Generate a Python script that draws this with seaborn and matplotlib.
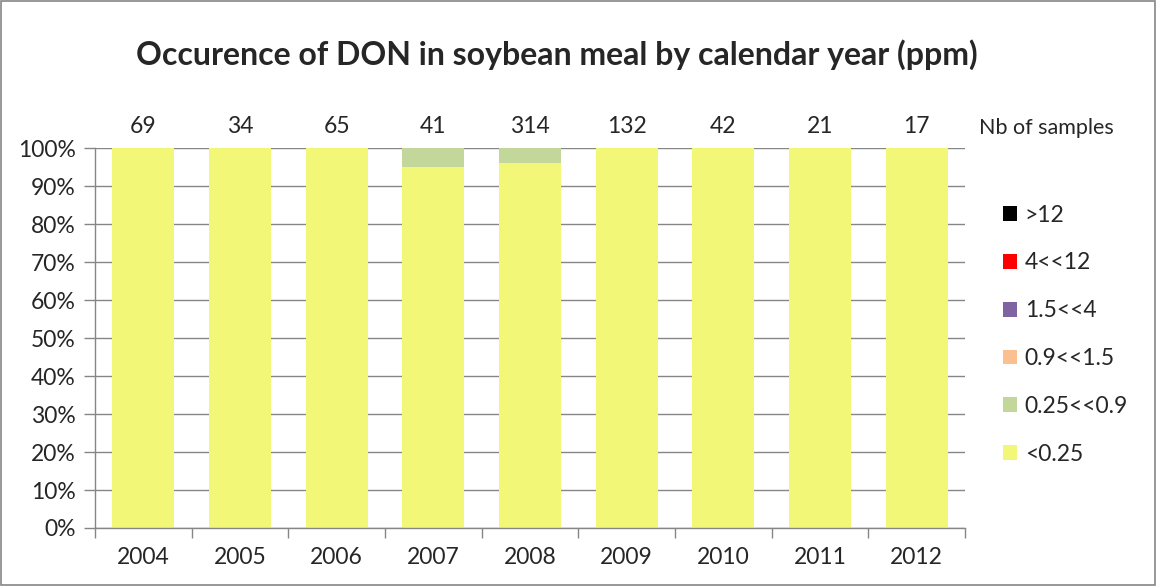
import pandas as pd
import numpy as np
import seaborn as sns
import matplotlib.pyplot as plt
from matplotlib.patches import Patch, Rectangle

years = ["2004", "2005", "2006", "2007", "2008", "2009", "2010", "2011", "2012"]
n_samples = [69, 34, 65, 41, 314, 132, 42, 21, 17]

# share of samples per class (%), bottom to top
classes = ["<0.25", "0.25<<0.9", "0.9<<1.5", "1.5<<4", "4<<12", ">12"]
lt_025 = [100, 100, 100, 95, 96, 100, 100, 100, 100]
c025_09 = [0, 0, 0, 5, 4, 0, 0, 0, 0]
c09_15 = [0, 0, 0, 0, 0, 0, 0, 0, 0]
c15_4 = [0, 0, 0, 0, 0, 0, 0, 0, 0]
c4_12 = [0, 0, 0, 0, 0, 0, 0, 0, 0]
gt_12 = [0, 0, 0, 0, 0, 0, 0, 0, 0]

colors = ["#F2F778", "#C4D79B", "#FAC090", "#8064A2", "#FF0000", "#000000"]

df = pd.DataFrame({"year": years, "<0.25": lt_025, "0.25<<0.9": c025_09,
                   "0.9<<1.5": c09_15, "1.5<<4": c15_4, "4<<12": c4_12, ">12": gt_12})

sns.set_theme(style="white")
plt.rcParams['font.family'] = ['Lato', 'DejaVu Sans']
grid_col = "#868686"

fig = plt.figure(figsize=(11.57, 5.86), dpi=100)
ax = fig.add_axes([0.0821, 0.099, 0.752, 0.648])

ax.yaxis.grid(True, color=grid_col, linewidth=1)
ax.set_axisbelow(True)

# stacked bars: draw cumulative totals, top class first
cum = df[classes].cumsum(axis=1)
for cls, col in reversed(list(zip(classes, colors))):
    if df[cls].sum() == 0:
        continue
    sns.barplot(x=df["year"], y=cum[cls], color=col, width=0.64,
                saturation=1, linewidth=0, ax=ax)

ax.set_ylim(0, 100)
ax.set_xlim(-0.5, len(years) - 0.5)
ax.set_yticks(np.arange(0, 101, 10))
ax.set_yticklabels([f"{v}%" for v in range(0, 101, 10)])
ax.set_xlabel("")
ax.set_ylabel("")

for s in ["top", "right"]:
    ax.spines[s].set_visible(False)
for s in ["left", "bottom"]:
    ax.spines[s].set_color(grid_col)
    ax.spines[s].set_linewidth(1)

ax.tick_params(axis="y", which="major", left=True, length=8, color=grid_col,
               width=1, labelsize=16.5, pad=6)
ax.tick_params(axis="x", which="major", length=0, labelsize=16.5, pad=14)
ax.set_xticks(np.arange(-0.5, len(years)), minor=True)
ax.tick_params(axis="x", which="minor", bottom=True, length=7, color=grid_col, width=1)

for i, n in enumerate(n_samples):
    ax.text(i, 105.8, str(n), ha="center", va="center", fontsize=16.5, clip_on=False)

fig.text(1046 / 1157, 1 - 128 / 586, "Nb of samples", ha="center", va="center", fontsize=15.5)

fig.suptitle("Occurence of DON in soybean meal by calendar year (ppm)",
             x=0.481, y=1 - 55 / 586, va="center", fontsize=23, fontweight="bold")

handles = [Patch(facecolor=c, edgecolor="none") for c in reversed(colors)]
leg = fig.legend(handles, list(reversed(classes)), loc="upper left",
                 bbox_to_anchor=(982 / 1157, 1 - 184 / 586), frameon=False,
                 fontsize=16.5, handlelength=0.62, handleheight=0.62,
                 handletextpad=0.35, labelspacing=1.17)

fig.patches.append(Rectangle((0.001, 0.001), 0.997, 0.997, transform=fig.transFigure,
                             fill=False, edgecolor=grid_col, linewidth=1.2))

fig.savefig("out.png", dpi=100)
